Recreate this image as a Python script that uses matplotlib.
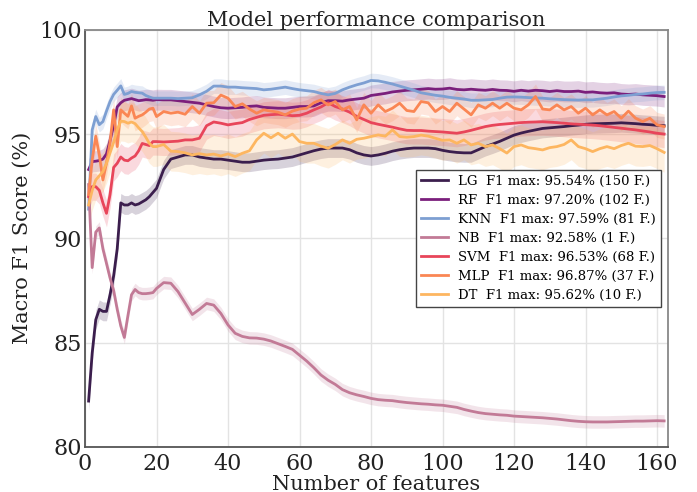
import numpy as np
import matplotlib.pyplot as plt

# numero de features avaliadas (1..20 e depois de 2 em 2)
feats = list(range(1, 21)) + list(range(22, 163, 2))

lg = [82.2, 84.5, 86.1, 86.6, 86.5, 86.5, 87.3, 88.2, 89.5, 91.7, 91.6, 91.6, 91.7, 91.6, 91.65, 91.75, 91.85, 92.0, 92.2, 92.4,
      93.3, 93.8, 93.9, 94.0, 94.0, 93.9, 93.85, 93.8, 93.8, 93.75, 93.7, 93.65, 93.65, 93.7, 93.75, 93.78, 93.8, 93.85, 93.9, 94.0,
      94.1, 94.2, 94.28, 94.33, 94.33, 94.33, 94.25, 94.1, 94.0, 93.95, 94.0, 94.08, 94.18, 94.25, 94.3, 94.33, 94.33, 94.33, 94.3, 94.22,
      94.16, 94.12, 94.1, 94.1, 94.25, 94.4, 94.52, 94.65, 94.8, 94.95, 95.05, 95.13, 95.2, 95.27, 95.3, 95.33, 95.36, 95.4, 95.43, 95.47,
      95.49, 95.5, 95.51, 95.52, 95.54, 95.52, 95.5, 95.47, 95.45, 95.42, 95.4]
rf = [93.3, 93.68, 93.7, 93.73, 93.8, 94.05, 94.7, 95.4, 96.3, 96.5, 96.62, 96.66, 96.7, 96.65, 96.6, 96.62, 96.65, 96.64, 96.62, 96.65,
      96.64, 96.64, 96.6, 96.56, 96.52, 96.48, 96.4, 96.32, 96.26, 96.24, 96.26, 96.28, 96.33, 96.35, 96.28, 96.26, 96.24, 96.24, 96.28, 96.32,
      96.32, 96.35, 96.5, 96.6, 96.6, 96.58, 96.64, 96.68, 96.72, 96.85, 96.9, 96.95, 97.02, 97.06, 97.1, 97.12, 97.15, 97.18, 97.15, 97.16,
      97.2, 97.14, 97.12, 97.15, 97.12, 97.1, 97.14, 97.1, 97.09, 97.05, 97.1, 97.06, 97.1, 97.08, 97.04, 97.08, 97.04, 97.04, 97.06, 97.0,
      97.02, 96.98, 96.96, 96.98, 96.92, 96.9, 96.92, 96.88, 96.86, 96.84, 96.8]
knn = [91.4, 95.2, 95.84, 95.45, 95.6, 96.1, 96.56, 96.9, 97.1, 97.31, 96.9, 96.95, 97.04, 97.0, 96.98, 96.96, 96.85, 96.78, 96.72, 96.72,
       96.72, 96.72, 96.7, 96.72, 96.74, 96.88, 97.05, 97.3, 97.3, 97.25, 97.25, 97.22, 97.2, 97.18, 97.12, 97.15, 97.2, 97.25, 97.18, 97.12,
       97.08, 97.04, 96.95, 96.88, 96.95, 97.12, 97.25, 97.36, 97.45, 97.57, 97.55, 97.48, 97.4, 97.3, 97.2, 97.1, 96.98, 96.92, 96.86, 96.82,
       96.76, 96.72, 96.68, 96.62, 96.62, 96.64, 96.66, 96.72, 96.77, 96.78, 96.77, 96.75, 96.73, 96.72, 96.69, 96.67, 96.65, 96.64, 96.63, 96.64,
       96.64, 96.68, 96.72, 96.78, 96.83, 96.86, 96.9, 96.92, 96.96, 96.99, 97.0]
nb = [92.58, 88.6, 90.3, 90.5, 89.5, 88.8, 88.1, 87.5, 86.6, 85.8, 85.25, 86.3, 87.3, 87.55, 87.4, 87.35, 87.35, 87.37, 87.4, 87.6,
      87.88, 87.85, 87.45, 86.9, 86.35, 86.6, 86.88, 86.8, 86.4, 85.85, 85.45, 85.3, 85.23, 85.22, 85.17, 85.08, 84.95, 84.82, 84.68, 84.4,
      84.12, 83.8, 83.45, 83.2, 83.0, 82.75, 82.6, 82.5, 82.42, 82.33, 82.27, 82.24, 82.22, 82.17, 82.13, 82.1, 82.07, 82.05, 82.02, 82.0,
      81.95, 81.9, 81.8, 81.72, 81.65, 81.6, 81.57, 81.54, 81.52, 81.48, 81.46, 81.44, 81.42, 81.4, 81.37, 81.34, 81.3, 81.26, 81.23, 81.21,
      81.2, 81.2, 81.2, 81.21, 81.22, 81.23, 81.24, 81.24, 81.25, 81.26, 81.25]
svm = [92.0, 92.48, 92.48, 92.3, 91.7, 91.2, 92.1, 93.4, 93.6, 93.9, 93.75, 93.72, 93.85, 93.95, 94.2, 94.55, 94.5, 94.45, 94.64, 94.64,
       94.62, 94.64, 94.66, 94.72, 94.72, 94.8, 95.4, 95.58, 95.52, 95.44, 95.5, 95.55, 95.7, 95.8, 95.9, 95.93, 95.95, 95.92, 95.88, 95.9,
       96.0, 96.16, 96.3, 96.5, 96.32, 96.2, 96.05, 95.85, 95.7, 95.55, 95.47, 95.4, 95.33, 95.25, 95.18, 95.17, 95.17, 95.14, 95.12, 95.1,
       95.07, 95.04, 95.1, 95.18, 95.27, 95.36, 95.42, 95.46, 95.49, 95.52, 95.55, 95.57, 95.58, 95.59, 95.57, 95.55, 95.52, 95.49, 95.47, 95.45,
       95.43, 95.4, 95.36, 95.32, 95.28, 95.24, 95.2, 95.15, 95.1, 95.04, 95.0]
mlp = [92.1, 93.76, 94.9, 94.0, 92.8, 93.6, 94.6, 96.16, 94.4, 96.16, 96.0, 95.85, 96.35, 95.76, 95.85, 95.92, 96.05, 96.2, 96.24, 95.84,
       96.08, 96.0, 96.05, 95.95, 96.32, 96.0, 96.48, 96.5, 96.87, 96.72, 96.32, 96.45, 96.2, 96.0, 96.16, 96.1, 96.05, 95.92, 96.1, 96.2,
       96.24, 96.5, 96.64, 96.4, 96.56, 96.16, 96.32, 95.68, 96.4, 96.0, 96.4, 96.08, 96.24, 96.48, 96.13, 96.08, 96.56, 96.5, 96.08, 96.32,
       96.08, 96.48, 96.2, 95.92, 96.4, 96.24, 96.48, 96.24, 96.48, 96.24, 96.16, 96.4, 96.8, 96.2, 96.16, 96.4, 96.16, 96.32, 96.0, 96.24,
       95.92, 96.16, 95.92, 96.08, 95.76, 96.1, 95.76, 95.6, 95.76, 95.44, 95.36]
dt = [91.6, 92.3, 92.8, 93.0, 93.2, 93.6, 94.1, 94.6, 95.2, 95.62, 95.6, 95.52, 95.58, 95.5, 95.3, 95.12, 94.85, 94.55, 94.4, 94.4,
      94.5, 94.18, 94.16, 94.1, 94.0, 94.06, 94.0, 94.04, 93.95, 94.05, 93.92, 94.08, 94.2, 94.72, 95.04, 94.82, 95.04, 94.8, 95.0, 94.64,
      94.56, 94.56, 94.42, 94.32, 94.5, 94.72, 94.56, 94.75, 94.8, 94.88, 94.96, 94.9, 95.2, 94.88, 94.85, 94.88, 94.95, 94.9, 94.8, 94.7,
      94.72, 94.56, 94.72, 94.48, 94.56, 94.4, 94.48, 94.3, 94.09, 94.4, 94.48, 94.35, 94.3, 94.24, 94.35, 94.4, 94.5, 94.72, 94.4, 94.3,
      94.16, 94.3, 94.4, 94.3, 94.45, 94.56, 94.42, 94.4, 94.45, 94.3, 94.12]

modelos = ["LG", "RF", "KNN", "NB", "SVM", "MLP", "DT"]
series = [lg, rf, knn, nb, svm, mlp, dt]
desvios = [0.45, 0.5, 0.35, 0.3, 0.65, 0.6, 0.95]  # meia-largura da faixa
f1_max = [95.54, 97.20, 97.59, 92.58, 96.53, 96.87, 95.62]
n_max = [150, 102, 81, 1, 68, 37, 10]
cores = ["#3b1e4d", "#7b1f7c", "#7d9fd2", "#c27a96", "#e8455a", "#fa8654", "#fdb660"]

plt.rcParams['font.family'] = 'DejaVu Serif'

fig = plt.figure(figsize=(6.97, 4.92), dpi=100)
ax = fig.add_axes([0.122, 0.0915, 0.836, 0.848])

x = np.array(feats)
for nome, y, s, m, n, c in zip(modelos, series, desvios, f1_max, n_max, cores):
    y = np.array(y)
    ax.fill_between(x, y - s, y + s, color=c, alpha=0.2, linewidth=0)
    ax.plot(x, y, color=c, lw=2, label=f"{nome}  F1 max: {m:.2f}% ({n} F.)")

ax.set_xlim(0, 163)
ax.set_ylim(80, 100)
ax.set_xticks(range(0, 161, 20))
ax.set_yticks(range(80, 101, 5))
ax.tick_params(labelsize=16, length=0, pad=2, colors="#222222")
ax.tick_params(axis="x", pad=4)
ax.grid(color="#e3e3e3", lw=1)
ax.set_axisbelow(True)
for lado in ["left", "bottom"]:
    ax.spines[lado].set_color("#555555")
for lado in ["top", "right"]:
    ax.spines[lado].set_color("#888888")
for sp in ax.spines.values():
    sp.set_linewidth(1.3)

ax.set_title("Model performance comparison", fontsize=15, color="#222222", pad=3)
ax.set_xlabel("Number of features", fontsize=15, color="#222222", labelpad=0)
ax.set_ylabel("Macro F1 Score (%)", fontsize=15, color="#222222", labelpad=6)

leg = ax.legend(loc="center right", fontsize=9.5, fancybox=False, framealpha=1,
                edgecolor="#444444", handlelength=2, borderaxespad=0.5,
                labelspacing=0.45)

fig.savefig("out.png", dpi=100)
